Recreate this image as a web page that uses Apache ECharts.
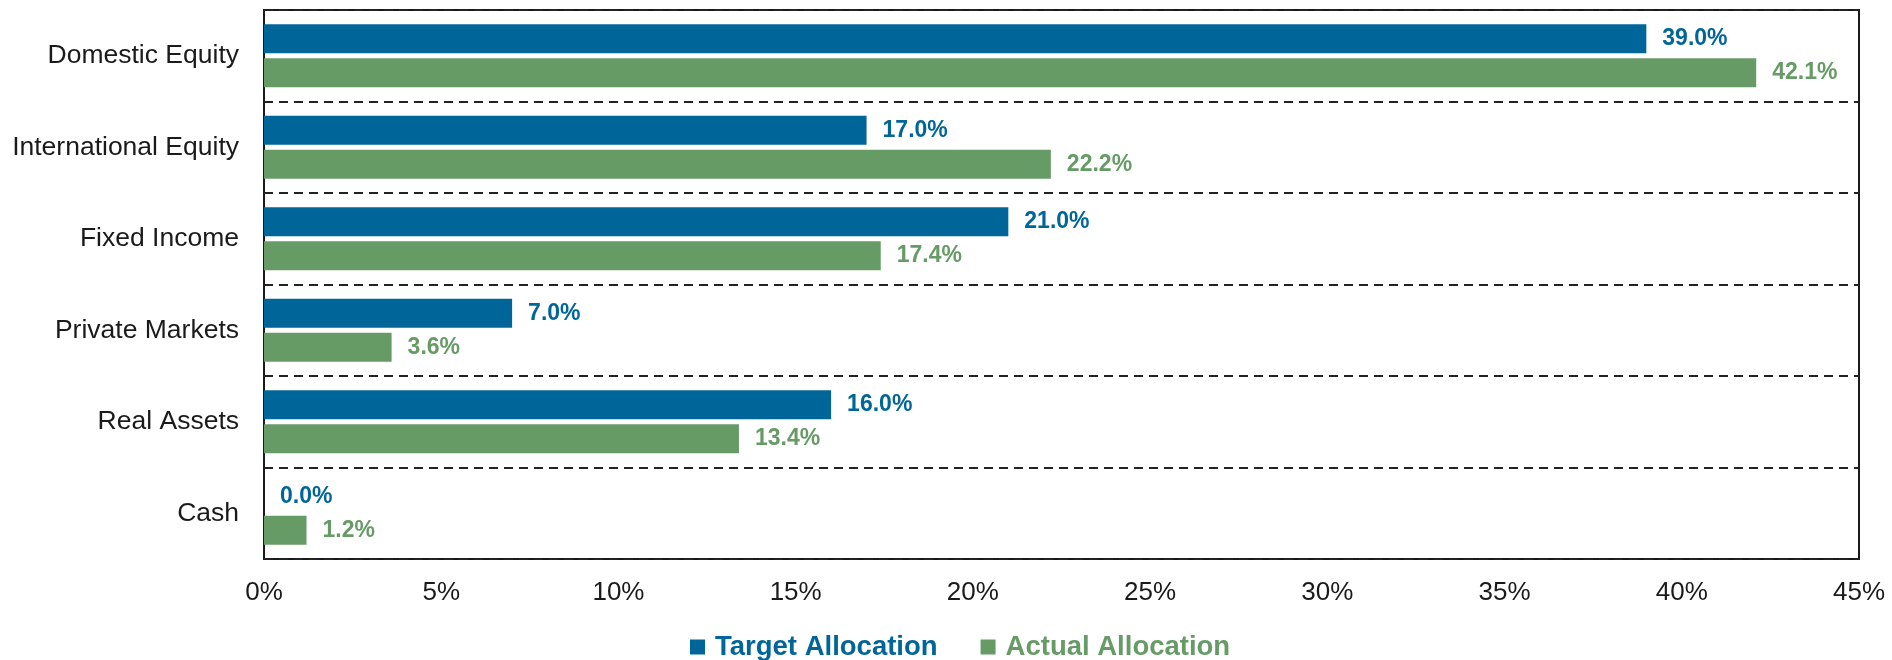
<!DOCTYPE html>
<html>
<head>
<meta charset="utf-8">
<script src="https://cdn.jsdelivr.net/npm/echarts@6/dist/echarts.min.js"></script>
<style>
  html, body { margin: 0; padding: 0; background: #fff; }
  #chart { width: 1892px; height: 660px; }
</style>
</head>
<body>
<div id="chart"></div>
<script>
// 资产类别
const categories = ['Domestic Equity', 'International Equity', 'Fixed Income', 'Private Markets', 'Real Assets', 'Cash'];
// 目标配置 / 实际配置 (%)
const targetAllocation = [39.0, 17.0, 21.0, 7.0, 16.0, 0.0];
const actualAllocation = [42.1, 22.2, 17.4, 3.6, 13.4, 1.2];

const BLUE = '#006699';
const GREEN = '#679b66';
const FONT = 'Liberation Sans, Arial, sans-serif';

const chart = echarts.init(document.getElementById('chart'));

function barSeries(name, data, color) {
  return {
    name: name,
    type: 'bar',
    data: data,
    barWidth: 29,
    barGap: '17%',
    itemStyle: { color: color },
    label: {
      show: true,
      position: 'right',
      distance: 16,
      color: color,
      fontFamily: FONT,
      fontWeight: 'bold',
      fontSize: 23,
      formatter: p => p.value.toFixed(1) + '%'
    }
  };
}

chart.setOption({
  animation: false,
  grid: {
    left: 264, right: 33, top: 10, bottom: 101,
    show: true,
    borderColor: '#1a1a1a',
    borderWidth: 2
  },
  legend: {
    left: 690,
    top: 633,
    padding: 0,
    itemWidth: 15,
    itemHeight: 15,
    itemGap: 43,
    icon: 'rect',
    textStyle: {
      fontFamily: FONT,
      fontWeight: 'bold',
      fontSize: 27.5,
      padding: [0, 0, 0, 5]
    },
    data: [
      { name: 'Target Allocation', textStyle: { color: BLUE } },
      { name: 'Actual Allocation', textStyle: { color: GREEN } }
    ]
  },
  xAxis: {
    type: 'value',
    min: 0,
    max: 45,
    interval: 5,
    axisLine: { show: false },
    axisTick: { show: false },
    splitLine: { show: false },
    axisLabel: {
      margin: 21,
      color: '#1a1a1a',
      fontFamily: FONT,
      fontSize: 26,
      formatter: '{value}%'
    }
  },
  yAxis: {
    type: 'category',
    data: categories,
    inverse: true,
    axisLine: { show: false },
    axisTick: { show: false },
    splitLine: {
      show: true,
      lineStyle: { color: '#222', type: [9, 6], width: 2 }
    },
    axisLabel: {
      margin: 25,
      color: '#1a1a1a',
      fontFamily: FONT,
      fontSize: 26.5
    }
  },
  series: [
    barSeries('Target Allocation', targetAllocation, BLUE),
    barSeries('Actual Allocation', actualAllocation, GREEN)
  ]
});
</script>
</body>
</html>
